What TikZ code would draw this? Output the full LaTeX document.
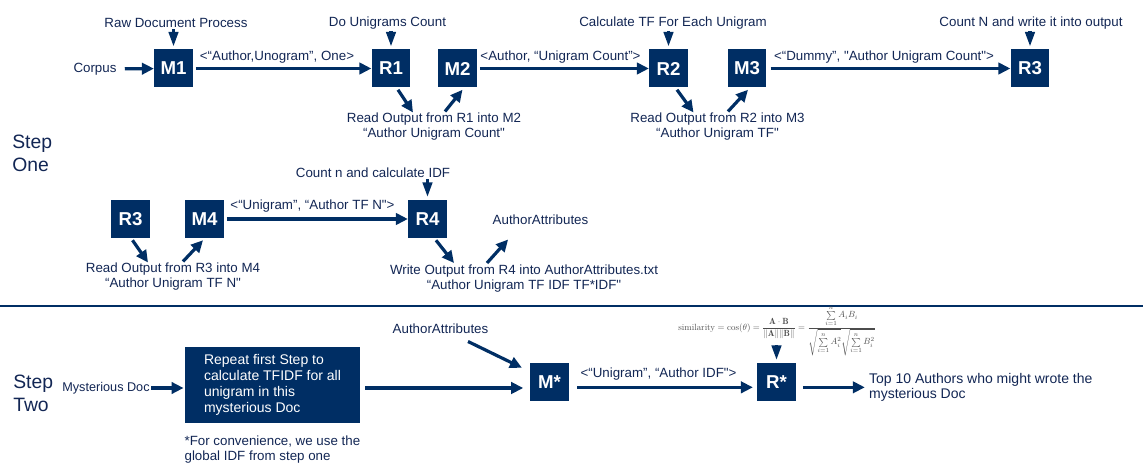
\documentclass[tikz,border=0pt]{standalone}
\usepackage{amsmath,graphicx}
\usepackage{fontspec}
\newfontfamily\lsans{Liberation Sans}
\usetikzlibrary{arrows.meta,positioning,calc}
\definecolor{navy}{RGB}{0,46,100}
\definecolor{ink}{RGB}{18,38,84}

\begin{document}
\begin{tikzpicture}[x=0.75pt, y=-0.75pt,
  box/.style={fill=navy, text=white, font=\lsans\bfseries\fontsize{14}{16}\selectfont,
    minimum width=29pt, minimum height=28.5pt, inner sep=0pt},
  lbl/.style={text=ink, font=\lsans\fontsize{10}{11.25}\selectfont, inner sep=1pt, align=center},
  steplbl/.style={text=ink, font=\lsans\fontsize{14.5}{17.25}\selectfont, align=left,
    inner sep=0pt, anchor=west},
  flow/.style={draw=navy, line width=2.4pt, -{Triangle[width=8.5pt,length=9pt]}},
  drop/.style={draw=navy, line width=2.4pt, -{Triangle[width=7pt,length=11pt]}, shorten >=2pt}]
  \useasboundingbox (0,0) rectangle (1146,473);

  % step one, first row
  \node[box] (M1) at (173.5,68.5) {M1};
  \node[box] (R1) at (391,68.5)   {R1};
  \node[box] (M2) at (457.5,68.5) {M2};
  \node[box] (R2) at (668.5,68.5) {R2};
  \node[box] (M3) at (747,68.5)   {M3};
  \node[box] (R3) at (1030,68.5)  {R3};

  \node[lbl] (tM1) at (176,23)    {Raw Document Process};
  \node[lbl] (tR1) at (387.5,23)  {Do Unigrams Count};
  \node[lbl] (tR2) at (673,23)    {Calculate TF For Each Unigram};
  \node[lbl] (tR3) at (1031,23)   {Count N and write it into output};
  \node[lbl] (corpus) at (95,69)  {Corpus};
  \node[lbl] (e1) at (277,57)     {<“Author,Unogram”, One>};
  \node[lbl] (e2) at (560.5,57)   {<Author, “Unigram Count”>};
  \node[lbl] (e3) at (884,57)     {<“Dummy”, "Author Unigram Count">};
  \node[lbl, anchor=north] (rd1) at (434,111.5)
       {Read Output from R1 into M2\\“Author Unigram Count"};
  \node[lbl, anchor=north] (rd2) at (717.5,111.5)
       {Read Output from R2 into M3\\“Author Unigram TF"};

  \draw[drop] (tM1.south -| M1) -- (M1.north);
  \draw[drop] (tR1.south -| R1) -- (R1.north);
  \draw[drop] (tR2.south -| R2) -- (R2.north);
  \draw[drop] (tR3.south -| R3) -- (R3.north);
  \draw[flow, shorten <=5pt] (corpus) -- (M1);
  \draw[flow, shorten <=2pt] (M1) -- (R1);
  \draw[flow, shorten <=2pt] (M2) -- (R2);
  \draw[flow, shorten <=3pt] (M3) -- (R3);
  \draw[flow] ($(R1.south)+(7,2)$) -- ($(rd1.north)+(-21,1)$);
  \draw[flow] ($(rd1.north)+(11,0)$) -- ($(M2.south)+(5,2)$);
  \draw[flow] ($(R2.south)+(8.5,2)$) -- ($(rd2.north)+(-24,1)$);
  \draw[flow] ($(rd2.north)+(10.5,0)$) -- ($(M3.south)+(1,2)$);

  \node[steplbl] (one) at (12,153.5) {Step\\One};

  % step one, second row
  \node[box] (R3b) at (130.5,219) {R3};
  \node[box] (M4) at (204.5,219)  {M4};
  \node[box] (R4) at (427.5,219)  {R4};

  \node[lbl] (tR4) at (373,173)   {Count n and calculate IDF};
  \node[lbl] (e4) at (312.5,206)  {<“Unigram”, “Author TF N">};
  \node[lbl] (aa1) at (540.5,220) {AuthorAttributes};
  \node[lbl, anchor=north] (rd3) at (173,261.5)
       {Read Output from R3 into M4\\“Author Unigram TF N"};
  \node[lbl, anchor=north] (wr4) at (524,263)
       {Write Output from R4 into AuthorAttributes.txt\\“Author Unigram TF IDF TF*IDF"};

  \draw[drop] (tR4.south -| R4) -- (R4.north);
  \draw[flow, shorten <=2pt] (M4) -- (R4);
  \draw[flow] ($(R3b.south)+(2,2)$) -- ($(rd3.north)+(-25,1)$);
  \draw[flow] ($(rd3.north)+(10,0)$) -- ($(M4.south)+(-1.5,2)$);
  \draw[flow] ($(R4.south)+(8.5,2)$) -- ($(wr4.north)+(-70,0)$);
  \draw[flow] ($(wr4.north)+(-37,0)$) -- ($(aa1.south west)+(17,13)$);

  % separator
  \draw[navy, line width=1.1pt] (0,306) -- (1143,306);

  % step two
  \node[steplbl] (two) at (13,393) {Step\\Two};
  \node[lbl, font=\lsans\fontsize{9.5}{11}\selectfont] (myst) at (106,388) {Mysterious Doc};
  \node[box, font=\lsans\fontsize{10.5}{12}\selectfont, align=left,
        minimum width=131pt, minimum height=57pt] (rep) at (272.5,385)
       {Repeat first Step to\\calculate TFIDF for all\\unigram in this\\mysterious Doc};
  \node[lbl, anchor=north west, align=left] (note) at (183,434)
       {*For convenience, we use the\\global IDF from step one};
  \node[lbl] (aa2) at (440.5,329) {AuthorAttributes};
  \node[box] (Ms) at (549.5,382) {M*};
  \node[box] (Rs) at (776.5,382) {R*};
  \node[lbl] (e5) at (658.5,374) {<“Unigram”, “Author IDF">};
  \node[text=black!70, inner sep=0pt] (frm) at (777,331)
       {\resizebox{148pt}{!}{$\displaystyle \text{similarity} = \cos(\theta)
        = \frac{\mathbf{A}\cdot\mathbf{B}}{\|\mathbf{A}\|\|\mathbf{B}\|}
        = \frac{\sum\limits_{i=1}^{n} A_i B_i}
          {\sqrt{\sum\limits_{i=1}^{n} A_i^2}\sqrt{\sum\limits_{i=1}^{n} B_i^2}}$}};
  \coordinate (fs) at (776.5,345);
  \node[lbl, anchor=west, align=left, font=\lsans\fontsize{10.5}{11.25}\selectfont] (top)
       at (867.5,387) {Top 10 Authors who might wrote the\\mysterious Doc};

  \draw[flow, shorten >=1pt] (myst) -- (myst -| rep.west);
  \draw[flow, shorten <=4pt, shorten >=5pt] ([yshift=-2.25pt]rep.east) -- ([yshift=-4.5pt]Ms.west);
  \draw[flow] ($(aa2.south)+(27.5,6)$) -- ($(Ms.north west)+(-8,5)$);
  \draw[flow, shorten <=6pt, shorten >=3pt] ([yshift=-4pt]Ms.east) -- ([yshift=-4pt]Rs.west);
  \draw[drop] (fs) -- (Rs.north);
  \draw[flow, shorten <=5pt, shorten >=2pt] ([yshift=-4pt]Rs.east) -- ([yshift=-4pt]Rs.east -| top.west);
\end{tikzpicture}
\end{document}
